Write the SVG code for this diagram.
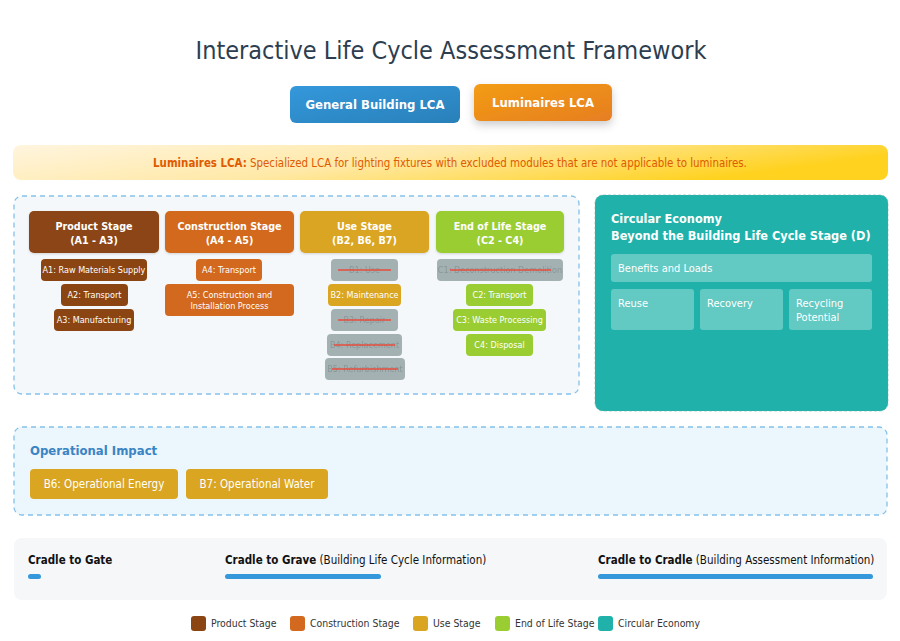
<svg xmlns="http://www.w3.org/2000/svg" width="900" height="641" viewBox="0 0 900 641">
<defs>
<linearGradient id="gBlue" x1="0" y1="0" x2="1" y2="1"><stop offset="0" stop-color="#3498db"/><stop offset="1" stop-color="#2980b9"/></linearGradient>
<linearGradient id="gOrange" x1="0" y1="0" x2="1" y2="1"><stop offset="0" stop-color="#f39c12"/><stop offset="1" stop-color="#e67e22"/></linearGradient>
<linearGradient id="gBanner" x1="0" y1="0" x2="1" y2="0.3"><stop offset="0" stop-color="#fff5df"/><stop offset="0.5" stop-color="#ffe9a8"/><stop offset="1" stop-color="#ffd21f"/></linearGradient>
<filter id="sh" x="-20%" y="-30%" width="140%" height="180%"><feDropShadow dx="0" dy="4" stdDeviation="4" flood-color="#000" flood-opacity="0.2"/></filter>
<filter id="sh2" x="-10%" y="-20%" width="120%" height="150%"><feDropShadow dx="0" dy="1" stdDeviation="1" flood-color="#000" flood-opacity="0.15"/></filter>
</defs>
<style>
text{font-family:"DejaVu Sans Condensed","DejaVu Sans",sans-serif}
.title{font-size:25px;fill:#2c3e50;text-anchor:middle}
.btn{font-size:13px;font-weight:bold;fill:#fff;text-anchor:middle}
.hdr{font-size:10.7px;font-weight:bold;fill:#fff;text-anchor:middle}
.sub{font-size:9px;fill:#fff;text-anchor:middle}
.ex{font-size:9px;fill:#7f8c8d;text-anchor:middle;opacity:0.7}
.strike{stroke:#e74c3c;stroke-width:1.3}
.exbox{fill:#95a5a6;opacity:0.85}
.ce{font-size:12.6px;font-weight:bold;fill:#fff}
.cet{font-size:11px;fill:#fff}
.cebox{fill:#fff;fill-opacity:0.3}
.op{font-size:11.5px;fill:#fff;text-anchor:middle}
.cr{font-size:11.5px;fill:#111}
.crb{font-weight:bold}
.bar{fill:#3498db}
.lg{font-size:10.4px;fill:#333}
</style>

<text class="title" x="451" y="59">Interactive Life Cycle Assessment Framework</text>

<g id="btn-general">
<rect x="290" y="86" width="170" height="37" rx="6" fill="url(#gBlue)"/>
<text class="btn" x="375" y="109">General Building LCA</text>
</g>
<g id="btn-luminaires">
<rect x="474" y="84" width="138" height="37" rx="6" fill="url(#gOrange)" filter="url(#sh)"/>
<text class="btn" x="543" y="107">Luminaires LCA</text>
</g>

<g id="banner">
<rect x="13" y="145" width="875" height="35" rx="8" fill="url(#gBanner)"/>
<text x="450" y="167" text-anchor="middle" font-size="11.4" fill="#e05a00"><tspan font-weight="bold">Luminaires LCA:</tspan> Specialized LCA for lighting fixtures with excluded modules that are not applicable to luminaires.</text>
</g>

<g id="stages-container">
<rect x="14" y="196" width="565" height="198" rx="8" fill="#f5f8fb" stroke="#85c1e9" stroke-width="1.3" stroke-dasharray="5,4"/>
</g>

<g id="product-stage">
<rect x="29" y="211" width="130" height="42" rx="5" fill="#8b4513" filter="url(#sh2)"/>
<text class="hdr" x="94" y="230">Product Stage</text>
<text class="hdr" x="94" y="244">(A1 - A3)</text>
<rect x="41" y="259" width="106" height="22" rx="4" fill="#8b4513"/>
<text class="sub" x="94" y="273">A1: Raw Materials Supply</text>
<rect x="61" y="284" width="67" height="22" rx="4" fill="#8b4513"/>
<text class="sub" x="94.5" y="298">A2: Transport</text>
<rect x="54" y="309" width="80" height="22" rx="4" fill="#8b4513"/>
<text class="sub" x="94" y="323">A3: Manufacturing</text>
</g>

<g id="construction-stage">
<rect x="165" y="211" width="129" height="42" rx="5" fill="#d2691e" filter="url(#sh2)"/>
<text class="hdr" x="229.5" y="230">Construction Stage</text>
<text class="hdr" x="229.5" y="244">(A4 - A5)</text>
<rect x="196" y="259" width="66" height="22" rx="4" fill="#d2691e"/>
<text class="sub" x="229" y="273">A4: Transport</text>
<rect x="165" y="284" width="129" height="32" rx="4" fill="#d2691e"/>
<text class="sub" x="229.5" y="298">A5: Construction and</text>
<text class="sub" x="229.5" y="309">Installation Process</text>
</g>

<g id="use-stage">
<rect x="300" y="211" width="129" height="42" rx="5" fill="#daa520" filter="url(#sh2)"/>
<text class="hdr" x="364.5" y="230">Use Stage</text>
<text class="hdr" x="364.5" y="244">(B2, B6, B7)</text>
<rect class="exbox" x="331" y="259" width="67" height="22" rx="4"/>
<text class="ex" x="364.5" y="273">B1: Use</text>
<line class="strike" x1="338" y1="270" x2="391" y2="270"/>
<rect x="328" y="284" width="73" height="22" rx="4" fill="#daa520"/>
<text class="sub" x="364.5" y="298">B2: Maintenance</text>
<rect class="exbox" x="331" y="309" width="67" height="22" rx="4"/>
<text class="ex" x="364.5" y="323">B3: Repair</text>
<line class="strike" x1="338" y1="320" x2="391" y2="320"/>
<rect class="exbox" x="327" y="334" width="75" height="22" rx="4"/>
<text class="ex" x="364.5" y="348">B4: Replacement</text>
<line class="strike" x1="334" y1="345" x2="395" y2="345"/>
<rect class="exbox" x="325" y="358" width="80" height="22" rx="4"/>
<text class="ex" x="365" y="372">B5: Refurbishment</text>
<line class="strike" x1="332" y1="369" x2="398" y2="369"/>
</g>

<g id="end-of-life-stage">
<rect x="436" y="211" width="128" height="42" rx="5" fill="#9acd32" filter="url(#sh2)"/>
<text class="hdr" x="500" y="230">End of Life Stage</text>
<text class="hdr" x="500" y="244">(C2 - C4)</text>
<rect class="exbox" x="437" y="259" width="126" height="22" rx="4"/>
<text class="ex" x="500" y="273">C1: Deconstruction Demolition</text>
<line class="strike" x1="450" y1="270" x2="551" y2="270"/>
<rect x="466" y="284" width="67" height="22" rx="4" fill="#9acd32"/>
<text class="sub" x="499.5" y="298">C2: Transport</text>
<rect x="453" y="309" width="93" height="22" rx="4" fill="#9acd32"/>
<text class="sub" x="499.5" y="323">C3: Waste Processing</text>
<rect x="466" y="334" width="67" height="22" rx="4" fill="#9acd32"/>
<text class="sub" x="499.5" y="348">C4: Disposal</text>
</g>

<g id="circular-economy">
<rect x="595" y="195" width="293" height="216" rx="8" fill="#20b2aa" stroke="#5a9" stroke-width="0.5" stroke-dasharray="3,2"/>
<text class="ce" x="611" y="223">Circular Economy</text>
<text class="ce" x="611" y="240">Beyond the Building Life Cycle Stage (D)</text>
<rect class="cebox" x="611" y="254" width="261" height="28" rx="3"/>
<text class="cet" x="618" y="272">Benefits and Loads</text>
<rect class="cebox" x="611" y="289" width="83" height="41" rx="3"/>
<text class="cet" x="618" y="307">Reuse</text>
<rect class="cebox" x="700" y="289" width="83" height="41" rx="3"/>
<text class="cet" x="707" y="307">Recovery</text>
<rect class="cebox" x="789" y="289" width="83" height="41" rx="3"/>
<text class="cet" x="796" y="307">Recycling</text>
<text class="cet" x="796" y="321">Potential</text>
</g>

<g id="operational-impact">
<rect x="14" y="427" width="873" height="88" rx="8" fill="#ebf6fd" stroke="#85c1e9" stroke-width="1.3" stroke-dasharray="5,4"/>
<text x="30" y="455" font-size="13" font-weight="bold" fill="#3a84c4">Operational Impact</text>
<rect x="30" y="469" width="148" height="30" rx="4" fill="#daa520"/>
<text class="op" x="104" y="488">B6: Operational Energy</text>
<rect x="186" y="469" width="142" height="30" rx="4" fill="#daa520"/>
<text class="op" x="257" y="488">B7: Operational Water</text>
</g>

<g id="scope-bar">
<rect x="14" y="538" width="873" height="62" rx="8" fill="#f5f7f9"/>
<text class="cr" x="28" y="564"><tspan class="crb">Cradle to Gate</tspan></text>
<rect class="bar" x="28" y="574" width="13" height="5" rx="2.5"/>
<text class="cr" x="225" y="564"><tspan class="crb">Cradle to Grave</tspan> (Building Life Cycle Information)</text>
<rect class="bar" x="225" y="574" width="156" height="5" rx="2.5"/>
<text class="cr" x="598" y="564"><tspan class="crb">Cradle to Cradle</tspan> (Building Assessment Information)</text>
<rect class="bar" x="598" y="574" width="275" height="5" rx="2.5"/>
</g>

<g id="legend">
<rect x="191" y="616" width="15" height="15" rx="3" fill="#8b4513"/>
<text class="lg" x="211" y="627">Product Stage</text>
<rect x="290" y="616" width="15" height="15" rx="3" fill="#d2691e"/>
<text class="lg" x="310" y="627">Construction Stage</text>
<rect x="413" y="616" width="15" height="15" rx="3" fill="#daa520"/>
<text class="lg" x="433" y="627">Use Stage</text>
<rect x="495" y="616" width="15" height="15" rx="3" fill="#9acd32"/>
<text class="lg" x="515" y="627">End of Life Stage</text>
<rect x="598" y="616" width="15" height="15" rx="3" fill="#20b2aa"/>
<text class="lg" x="618" y="627">Circular Economy</text>
</g>
</svg>
